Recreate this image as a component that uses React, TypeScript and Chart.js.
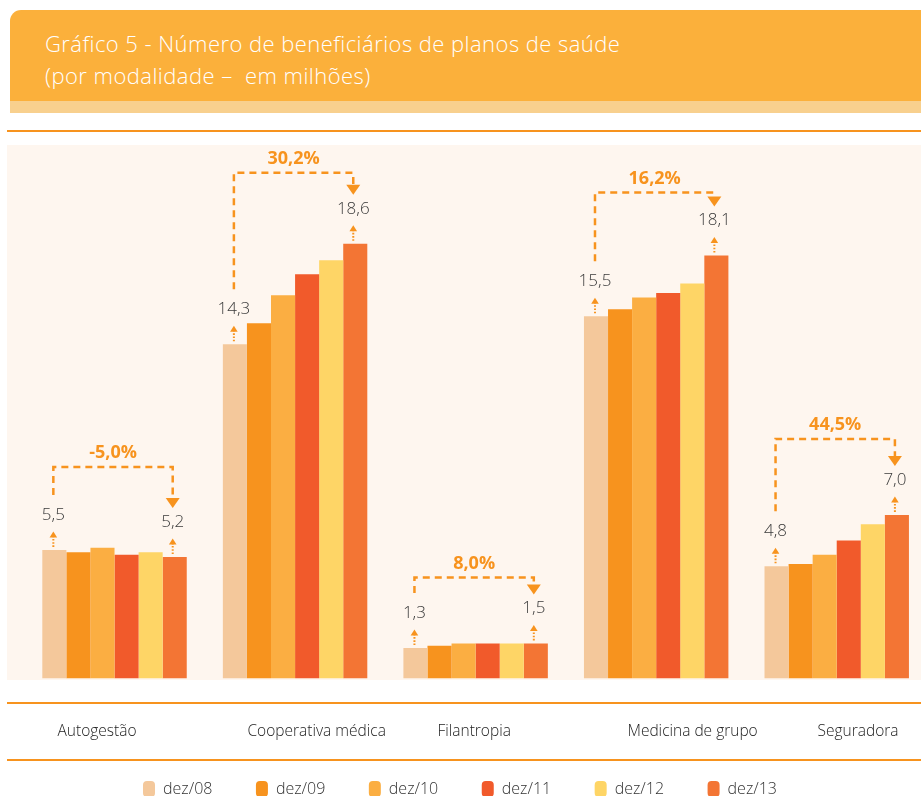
import React, { useEffect, useRef } from "react";
import { Chart, registerables } from "chart.js";

Chart.register(...registerables);

// ---------- data ----------
const categories = ["Autogestão", "Cooperativa médica", "Filantropia", "Medicina de grupo", "Seguradora"];
const seriesNames = ["dez/08", "dez/09", "dez/10", "dez/11", "dez/12", "dez/13"];
const dez08 = [5.5, 14.3, 1.3, 15.5, 4.8];
const dez09 = [5.4, 15.2, 1.4, 15.8, 4.9];
const dez10 = [5.6, 16.4, 1.5, 16.3, 5.3];
const dez11 = [5.3, 17.3, 1.5, 16.5, 5.9];
const dez12 = [5.4, 17.9, 1.5, 16.9, 6.6];
const dez13 = [5.2, 18.6, 1.5, 18.1, 7.0];
const changeLabels = ["-5,0%", "30,2%", "8,0%", "16,2%", "44,5%"];
const Y_MAX = 23;

// ---------- styles / layout ----------
const seriesColors = ["#F4C89B", "#F7931E", "#FBAE42", "#F15A2B", "#FED566", "#F37534"];
const ORANGE = "#F7931E";
const TEXT = "#3a3a3a";
const FONT = "'Open Sans', Roboto, 'Liberation Sans', Arial, sans-serif";
const CANVAS_LEFT = -7.5;
const CANVAS_W = 934;
const CANVAS_H = 807;
const bracketRise = [90, 71, 66, 63, 76];
const CAT_LABEL_X0 = 57;
const CAT_LABEL_STEP = 190;
const CAT_LABEL_Y = 732;

const fmt = (v: number) => v.toFixed(1).replace(".", ",");

const annotatePlugin = {
  id: "annotate",
  afterDatasetsDraw(chart: any) {
    const ctx = chart.ctx as CanvasRenderingContext2D;
    const n = chart.data.datasets.length;
    const firstMeta = chart.getDatasetMeta(0);
    const lastMeta = chart.getDatasetMeta(n - 1);
    const firstVals = chart.data.datasets[0].data as number[];
    const lastVals = chart.data.datasets[n - 1].data as number[];

    const smallArrow = (x: number, top: number) => {
      ctx.save();
      ctx.strokeStyle = ORANGE;
      ctx.fillStyle = ORANGE;
      ctx.lineWidth = 2;
      ctx.setLineDash([1.6, 1.6]);
      ctx.beginPath();
      ctx.moveTo(x, top - 3);
      ctx.lineTo(x, top - 13);
      ctx.stroke();
      ctx.setLineDash([]);
      ctx.beginPath();
      ctx.moveTo(x, top - 18.5);
      ctx.lineTo(x - 3.8, top - 12.5);
      ctx.lineTo(x + 3.8, top - 12.5);
      ctx.closePath();
      ctx.fill();
      ctx.restore();
    };

    categories.forEach((_, i) => {
      const a = firstMeta.data[i];
      const b = lastMeta.data[i];
      if (!a || !b) return;
      const ax = a.x - 1;
      const bx = b.x - 2;
      const aLabelY = a.y - 35;
      const bLabelY = b.y - 35;

      ctx.save();
      ctx.fillStyle = TEXT;
      ctx.font = `300 17px ${FONT}`;
      ctx.textAlign = "center";
      ctx.textBaseline = "middle";
      ctx.fillText(fmt(firstVals[i]), ax, aLabelY);
      ctx.fillText(fmt(lastVals[i]), bx, bLabelY);
      ctx.restore();

      smallArrow(ax, a.y);
      smallArrow(bx, b.y);

      const by = b.y - bracketRise[i];
      const tipY = bLabelY - 14;
      const headTop = tipY - 10;
      ctx.save();
      ctx.strokeStyle = ORANGE;
      ctx.lineWidth = 2.5;
      ctx.setLineDash([7, 5]);
      ctx.beginPath();
      ctx.moveTo(ax, aLabelY - 20);
      ctx.lineTo(ax, by);
      ctx.lineTo(bx, by);
      ctx.lineTo(bx, headTop);
      ctx.stroke();
      ctx.setLineDash([]);
      ctx.fillStyle = ORANGE;
      ctx.beginPath();
      ctx.moveTo(bx, tipY);
      ctx.lineTo(bx - 7, headTop);
      ctx.lineTo(bx + 7, headTop);
      ctx.closePath();
      ctx.fill();

      ctx.font = `bold 18px ${FONT}`;
      ctx.textAlign = "center";
      ctx.textBaseline = "middle";
      ctx.fillText(changeLabels[i], (ax + bx) / 2, by - 14);
      ctx.restore();
    });
  },
  afterDraw(chart: any) {
    const ctx = chart.ctx as CanvasRenderingContext2D;
    ctx.save();
    ctx.fillStyle = "#222";
    ctx.font = `300 15.5px ${FONT}`;
    ctx.textAlign = "left";
    ctx.textBaseline = "middle";
    (chart.data.labels as string[]).forEach((lab, i) => {
      ctx.fillText(lab, CAT_LABEL_X0 + i * CAT_LABEL_STEP - CANVAS_LEFT, CAT_LABEL_Y);
    });
    ctx.restore();
  },
};

export default function App() {
  const ref = useRef<HTMLCanvasElement | null>(null);

  useEffect(() => {
    if (!ref.current) return;
    const all = [dez08, dez09, dez10, dez11, dez12, dez13];
    const chart = new Chart(ref.current, {
      type: "bar",
      data: {
        labels: categories,
        datasets: all.map((d, k) => ({
          label: seriesNames[k],
          data: d,
          backgroundColor: seriesColors[k],
          borderColor: seriesColors[k],
          borderWidth: 0,
          barPercentage: 1,
          categoryPercentage: 0.8,
        })),
      },
      options: {
        responsive: false,
        animation: false,
        devicePixelRatio: 1,
        events: [],
        layout: { padding: { top: 141, left: 0, right: 0, bottom: 0 } },
        scales: {
          x: {
            type: "category",
            grid: { display: false },
            border: { display: false },
            ticks: { display: false },
            afterFit: (s: any) => {
              s.height = 59;
            },
          },
          y: {
            min: 0,
            max: Y_MAX,
            grid: { display: false },
            border: { display: false },
            ticks: { display: false },
            afterFit: (s: any) => {
              s.width = 31.25;
            },
          },
        },
        plugins: {
          tooltip: { enabled: false },
          title: { display: false },
          legend: {
            position: "bottom",
            labels: {
              boxWidth: 12,
              boxHeight: 16,
              useBorderRadius: true,
              borderRadius: 4,
              padding: 43.5,
              color: "#333",
              font: { family: FONT, size: 16, weight: 300 as any },
            },
          },
        },
      },
      plugins: [annotatePlugin],
    });
    return () => chart.destroy();
  }, []);

  const line = (top: number) => (
    <div style={{ position: "absolute", left: 7, top, width: 914, height: 2, background: ORANGE }} />
  );

  return (
    <div
      style={{
        position: "absolute",
        left: 0,
        top: 0,
        width: 921,
        height: 796,
        overflow: "hidden",
        background: "#ffffff",
        fontFamily: FONT,
      }}
    >
      <div
        style={{
          position: "absolute",
          left: 10,
          top: 10,
          width: 911,
          height: 91,
          background: "#FBB03B",
          borderTopLeftRadius: 11,
        }}
      />
      <div style={{ position: "absolute", left: 10, top: 101, width: 911, height: 12, background: "#F8D08E" }} />
      <div
        style={{
          position: "absolute",
          left: 45,
          top: 27,
          color: "#ffffff",
          fontSize: 22,
          fontWeight: 300,
          letterSpacing: "0.45px",
          lineHeight: "32px",
          whiteSpace: "pre",
        }}
      >
        <div>Gráfico 5 - Número de beneficiários de planos de saúde</div>
        <div>(por modalidade –  em milhões)</div>
      </div>
      {line(130)}
      <div style={{ position: "absolute", left: 7, top: 145, width: 914, height: 535, background: "#FEF6EF" }} />
      {line(702)}
      {line(759)}
      <canvas
        ref={ref}
        width={CANVAS_W}
        height={CANVAS_H}
        style={{ position: "absolute", left: CANVAS_LEFT, top: 0, width: CANVAS_W, height: CANVAS_H }}
      />
    </div>
  );
}
